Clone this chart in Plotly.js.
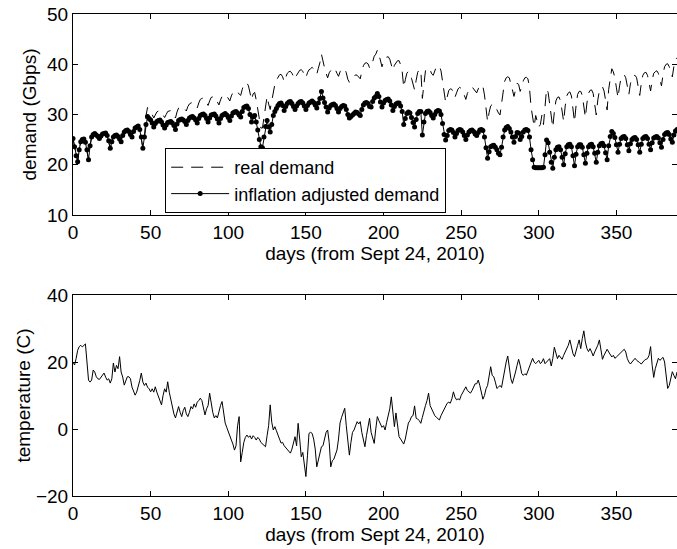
<!DOCTYPE html>
<html>
<head>
<meta charset="utf-8">
<script src="https://cdn.plot.ly/plotly-3.0.1.min.js"></script>
<style>html,body{margin:0;padding:0;background:#fff;}#chart{width:677px;height:549px;}</style>
</head>
<body>
<div id="chart"></div>
<script>
// inflation adjusted demand (Gbps), one value per day from day 0
const adjustedDemand = [
25.2,23.6,21.8,
20.6,23.0,24.6,25.0,25.1,24.5,23.0,
21.0,23.8,25.5,26.0,26.2,25.9,25.6,
25.2,25.7,26.1,26.2,26.3,25.8,24.8,
23.3,24.6,25.5,25.8,25.9,25.6,25.1,
24.6,25.8,26.5,26.8,26.9,26.6,26.0,
25.5,26.6,27.3,27.5,27.7,27.0,25.5,
23.3,25.5,28.0,29.6,29.2,28.9,28.3,
27.5,28.2,28.6,28.8,28.9,28.5,27.9,
27.3,27.9,28.4,28.5,28.6,28.3,27.8,
27.0,28.1,28.8,29.0,29.1,28.9,28.6,
28.0,28.8,29.3,29.5,29.6,29.3,28.9,
28.3,29.2,29.8,30.0,30.1,29.8,29.2,
28.5,29.3,29.9,30.0,30.1,29.7,29.1,
28.3,29.2,29.8,30.0,30.2,29.9,29.4,
28.8,29.7,30.3,30.5,30.6,30.3,29.9,
29.5,30.6,31.4,31.6,31.7,31.2,30.0,
28.5,29.5,29.8,28.5,26.9,25.0,23.6,
23.4,25.5,27.6,28.8,27.5,26.5,28.0,29.8,
30.6,31.2,31.8,32.2,32.3,31.8,
30.8,31.6,32.2,32.5,32.6,32.2,31.6,
31.0,31.7,32.2,32.5,32.6,32.3,31.7,
31.0,31.8,32.3,32.5,32.7,32.4,31.9,
31.3,32.3,33.2,34.6,33.3,32.4,31.5,
30.5,31.3,31.8,32.0,32.1,31.8,31.2,
30.5,31.2,31.6,31.8,31.7,31.0,30.0,
29.3,29.6,29.9,30.2,30.5,30.4,30.1,
29.8,31.0,31.9,32.3,32.4,32.2,31.6,
31.5,32.6,33.3,33.6,34.2,33.6,32.5,
31.5,32.3,32.8,33.0,33.1,32.7,31.9,
30.8,31.6,32.1,32.3,32.3,31.7,30.6,
28.0,29.2,30.2,30.5,30.3,29.4,28.4,
27.5,29.0,30.2,30.6,30.6,
25.9,28.5,30.2,30.6,30.7,30.4,29.8,
29.3,30.0,30.6,30.8,30.7,30.0,28.2,
26.0,24.9,25.8,26.8,27.0,26.9,26.4,
25.5,26.2,26.8,27.0,26.9,26.5,25.8,
25.0,25.9,26.5,26.8,26.9,26.6,26.1,
25.8,26.4,26.9,27.0,26.8,25.5,23.4,
21.3,22.6,23.6,23.8,23.9,23.5,23.0,
22.3,22.0,23.5,25.5,26.9,27.4,27.6,
27.2,26.5,25.5,24.5,25.6,26.4,26.3,
25.0,25.6,26.5,26.9,27.0,26.8,25.5,
23.0,21.0,19.5,19.4,19.4,19.4,19.4,19.4,19.5,
22.0,24.9,24.4,22.5,20.5,
19.3,21.5,23.0,23.5,23.6,23.0,21.5,
20.0,22.2,23.6,24.0,24.1,23.6,21.8,
19.8,22.1,23.6,24.0,24.0,23.5,22.0,
20.3,22.3,23.6,24.0,24.1,23.6,22.3,
20.5,22.5,23.8,24.2,24.3,23.8,22.4,
21.0,23.8,25.6,26.6,26.2,25.4,24.0,
22.5,24.1,25.2,25.5,25.6,25.2,24.0,
22.8,24.2,25.0,25.3,25.4,25.0,24.0,
22.5,24.1,25.2,25.5,25.6,25.2,24.1,
23.0,24.4,25.3,25.5,25.6,25.3,24.4,
23.5,25.0,26.0,26.3,26.4,26.0,25.1,
24.5,25.9,26.7,27.0
];

// real demand (Gbps), one value per day from day 0
const realDemand = [
25.2,23.6,21.8,
20.6,23.0,24.6,25.0,25.1,24.5,23.0,
21.0,23.8,25.5,26.0,26.2,25.9,25.6,
25.2,25.7,26.1,26.2,26.3,25.8,24.8,
23.3,24.6,25.5,25.8,25.9,25.6,25.1,
24.6,25.8,26.5,26.8,26.9,26.6,26.0,
25.5,26.6,27.3,27.5,27.7,27.0,25.5,
23.3,25.5,
29.7,31.4,31.0,30.6,30.0,
29.3,30.1,30.5,30.7,30.8,30.4,29.8,
29.4,30.0,30.6,30.7,30.8,30.5,29.9,
29.3,30.5,31.3,31.5,31.6,31.4,31.1,
30.7,31.6,32.1,32.3,32.4,32.1,31.7,
31.3,32.3,33.0,33.2,33.3,33.0,32.3,
31.8,32.7,33.4,33.5,33.6,33.1,32.5,
31.9,32.9,33.6,33.8,34.0,33.7,33.1,
32.7,33.7,34.4,34.6,34.8,34.4,34.0,
33.8,35.0,36.0,36.2,36.3,35.7,34.4,
32.9,34.1,34.4,32.9,31.1,28.9,27.3,
27.3,29.8,32.2,33.6,32.1,31.0,32.7,34.8,
36.0,36.8,37.5,37.9,38.0,37.5,
36.5,37.4,38.2,38.5,38.6,38.2,37.4,
37.0,37.8,38.4,38.8,38.9,38.6,37.8,
37.3,38.3,38.9,39.1,39.4,39.0,38.4,
38.0,39.2,40.3,42.0,40.4,39.3,38.2,
37.3,38.3,38.9,39.2,39.3,38.9,38.2,
37.6,38.5,39.0,39.2,39.1,38.3,37.0,
36.4,36.8,37.2,37.5,37.9,37.8,37.4,
37.1,38.6,39.7,40.2,40.3,40.1,39.3,
39.4,40.8,41.6,42.0,42.8,42.0,40.6,
39.5,40.5,41.2,41.4,41.5,41.0,40.0,
38.8,39.8,40.4,40.7,40.7,39.9,38.6,
35.4,36.9,38.2,38.6,38.3,37.2,35.9,
34.9,36.8,38.4,38.9,38.9,
33.2,36.5,38.7,39.2,39.3,38.9,38.1,
37.8,38.7,39.5,39.7,39.6,38.7,36.4,
33.8,32.4,33.5,34.8,35.1,35.0,34.3,
33.4,34.3,35.1,35.4,35.2,34.7,33.8,
33.0,34.2,35.0,35.4,35.5,35.1,34.5,
34.3,35.1,35.8,35.9,35.6,33.9,31.1,
28.6,30.4,31.7,32.0,32.1,31.6,30.9,
30.3,29.9,32.0,34.7,36.6,37.3,37.5,
37.3,36.3,34.9,33.6,35.1,36.2,36.0,
34.6,35.5,36.7,37.3,37.4,37.1,35.3,
31.5,29.5,27.6,29.8,28.5,27.5,28.0,29.9,28.0,
31.0,35.1,34.4,31.7,28.9,
27.4,30.5,32.7,33.4,33.5,32.7,30.5,
28.6,31.7,33.7,34.3,34.5,33.7,31.2,
28.5,31.8,34.0,34.6,34.6,33.8,31.7,
29.4,32.3,34.2,34.8,34.9,34.2,32.3,
29.9,32.9,34.7,35.3,35.5,34.7,32.7,
30.9,35.0,37.6,39.1,38.5,37.3,35.3,
33.3,35.7,37.3,37.7,37.9,37.3,35.5,
34.0,36.1,37.3,37.7,37.8,37.3,35.8,
33.8,36.2,37.8,38.3,38.4,37.8,36.2,
34.7,36.8,38.2,38.5,38.7,38.2,36.8,
35.7,38.0,39.5,40.0,40.1,39.5,38.2,
37.5,39.6,40.9,41.3
];

// temperature (C), one value per day from day 0
const temperature = [
20,19.1,21,23.5,24.6,25,24.5,25.1,25.4,20,
14.6,14,14.6,17.6,17,15.6,15,14.8,15.5,16,
16.7,15.5,14.6,15,13.7,15,19.7,17,19,18,
21.6,17,15.5,13.1,14.5,15.6,15.6,15,12.5,11,
10.1,11,12.5,14.5,16.7,14,13,13.7,12.5,12,
11.1,12,11,12.6,11,9.5,8.5,7.2,10,12,
11,14.1,11,8.7,6,4.5,3.3,5,6.7,5,
3.7,5.5,6.5,4.5,3.7,5,6.7,6,7.5,6.5,
8,8.5,9.2,8.5,6,4.2,6,7,10.7,7,
5,3.3,4,3.3,5.5,7,8.2,5,1.8,0.5,
-1,-2.5,-3.3,-4.5,-6.3,-5,1,3.7,-9.8,-7,
-4,-2.5,-1.8,-2.5,-2,-3,-2,-2.5,-3.3,-2.5,
-3,-4,-4.5,-5,-5.3,-2,1,7.2,2,-0.3,
0.7,-0.5,-2,-3,-4.2,-4,-5,-5.5,-6,-6.5,
-7.2,-6,-4,-2.3,-5,1.7,-3,-8.3,-7,-10,
-14.2,-8,-1.3,-1,-1.3,-3,-6,-11.3,-9,-7,
-5.3,-5,-3,-1,-0.3,-4,-11.3,-9.5,-9,-7.5,
-6.3,-3,1.8,3.5,5,6.2,1,-3,-7.8,-4,
-1,-0.3,1,2.2,1.5,2.2,-1,-3,-5.3,-2,
1,3.2,-1,-3,-4.3,0,3.7,2.5,1.5,0.5,
1,-0.3,2,4,6,9.6,4,0.7,4.8,1,
-2.3,-3,-4,-4.5,-3,-1,1.8,2.5,3.7,4,
6.9,3.2,3,2.5,1.7,3.5,5.5,7,8.5,10.7,
7,6,4.8,4,3.5,3,2.7,4,5,6,
6.5,7.7,8,7.7,9,11.1,9.5,8.7,9,8.7,
10,11,11.5,12.6,11.5,11,10.7,11.5,12.5,13.5,
13.5,14.6,13,11,8.9,10,12,13,16,18.6,
16,15.6,14,12.1,12.5,13,12.4,15,18,20,
21.8,18,15,13.6,15,17,19,20.8,19,16.6,
16,16.5,16.1,17.5,19,20,21.1,20,19.5,20,
20.5,19.5,20,21,19.5,20,20.5,21,18.8,21,
24.4,23,21,22,21.5,20.8,22,23,24,25,
26.6,24,22.5,21.6,23,25,26.6,24,27,29.3,
26,24,23.1,24,23,21.8,23,24,25,26.6,
23,20.8,22,23,23.8,23,22,21.5,22,21.1,
21.5,22,22.5,23,23.5,23.8,23,21,20,19.4,
20,20.5,21.1,20.5,20,19.8,19.4,20,20.5,20.8,
21,22,24.6,19,15.4,18,20,21.1,20.5,21,
21.4,20,16,12.1,13,15,17.1,16,15,17
];

const xTicks = [0, 50, 100, 150, 200, 250, 300, 350];
const demandTicks = [10, 20, 30, 40, 50];
const tempTicks = [-20, 0, 20, 40];
const xTitle = 'days (from Sept 24, 2010)';

const days = adjustedDemand.map((_, i) => i);
const tDays = temperature.map((_, i) => i);

const FONT = {family: '"Liberation Sans", Arial, Helvetica, sans-serif', size: 19, color: '#000'};
const LEGEND_FONT = {family: '"Liberation Sans", Arial, Helvetica, sans-serif', size: 18, color: '#000'};

const traces = [
  {x: days, y: realDemand, type: 'scatter', mode: 'lines', name: 'real demand',
   line: {color: '#000', width: 1, dash: '12px,8px'}, xaxis: 'x', yaxis: 'y', legendgroup: 'a'},
  {x: days, y: adjustedDemand, type: 'scatter', mode: 'lines+markers', name: 'inflation adjusted demand',
   line: {color: '#000', width: 1}, marker: {color: '#000', size: 5}, xaxis: 'x', yaxis: 'y', legendgroup: 'b'},
  {x: tDays, y: temperature, type: 'scatter', mode: 'lines', showlegend: false,
   line: {color: '#000', width: 1}, xaxis: 'x2', yaxis: 'y2'}
];

const axisCommon = {
  showline: true, linecolor: '#000', linewidth: 1, mirror: 'ticks',
  ticks: 'inside', ticklen: 5, tickcolor: '#000', tickwidth: 1,
  showgrid: false, zeroline: false, tickfont: FONT
};

const layout = {
  width: 677, height: 549,
  margin: {l: 73, r: 0, t: 14, b: 53},
  paper_bgcolor: '#fff', plot_bgcolor: '#fff',
  font: FONT,
  showlegend: true,
  legend: {
    x: 0.1526, y: 0.5871, xanchor: 'left', yanchor: 'bottom',
    bgcolor: '#fff', bordercolor: '#000', borderwidth: 1,
    font: LEGEND_FONT, itemwidth: 58, traceorder: 'grouped', tracegroupgap: 0
  },
  xaxis: Object.assign({}, axisCommon, {
    domain: [0, 1], anchor: 'y', range: [0, 389], tickvals: xTicks,
    title: {text: xTitle, font: FONT, standoff: 3}
  }),
  yaxis: Object.assign({}, axisCommon, {
    domain: [0.583, 1], anchor: 'x', range: [10, 50], tickvals: demandTicks,
    title: {text: 'demand (Gbps)', font: FONT, standoff: 5}
  }),
  xaxis2: Object.assign({}, axisCommon, {
    domain: [0, 1], anchor: 'y2', range: [0, 389], tickvals: xTicks,
    title: {text: xTitle, font: FONT, standoff: 0}
  }),
  yaxis2: Object.assign({}, axisCommon, {
    domain: [0, 0.417], anchor: 'x2', range: [-20, 40], tickvals: tempTicks,
    title: {text: 'temperature (C)', font: FONT, standoff: 0}
  })
};

Plotly.newPlot('chart', traces, layout, {displayModeBar: false, staticPlot: true});
</script>
</body>
</html>
